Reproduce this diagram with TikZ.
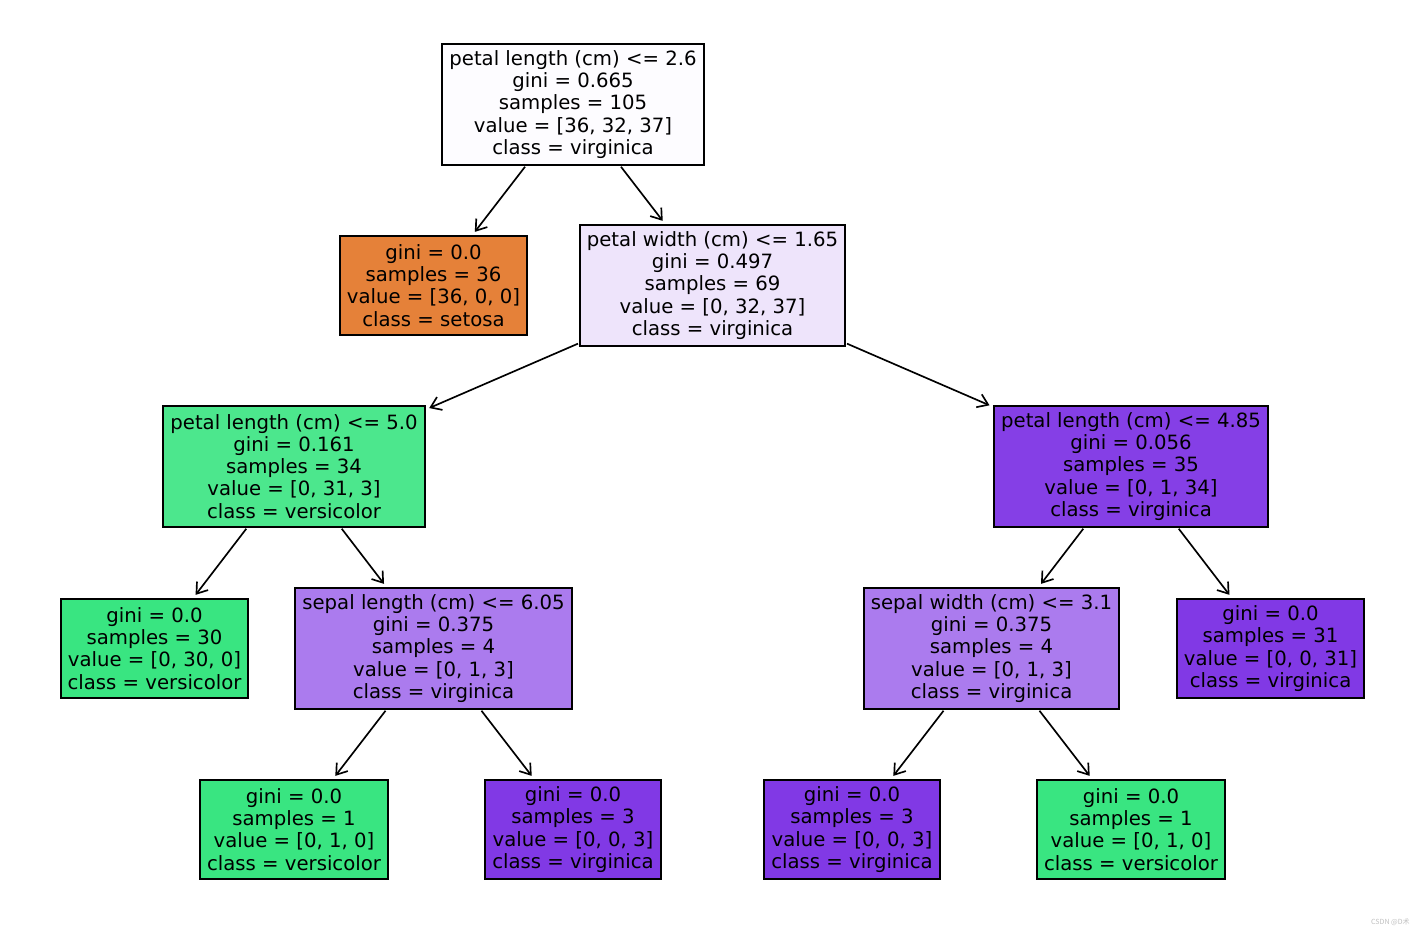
\documentclass[tikz,border=0pt]{standalone}
\usepackage{fontspec}
\setmainfont{DejaVu Sans}
\newfontfamily\cjkfont{Noto Sans CJK SC}
\usetikzlibrary{arrows.meta}

\definecolor{setosa}{RGB}{229,129,57}
\definecolor{versicolor}{RGB}{57,229,129}
\definecolor{virginica}{RGB}{129,57,229}
\definecolor{rootfill}{RGB}{253,252,255}
\definecolor{pwfill}{RGB}{238,228,251}
\definecolor{plfill}{RGB}{76,231,141}
\definecolor{plbfill}{RGB}{133,63,230}
\definecolor{midfill}{RGB}{171,123,238}

\tikzset{
  splitbox/.style={draw, line width=1.1pt, align=center, inner xsep=0.14cm,
    inner ysep=0pt, minimum height=2.42cm, font=\fontsize{11.2}{12.6}\selectfont},
  leafbox/.style={splitbox, minimum height=1.98cm},
  treearrow/.style={->, line width=0.95pt, shorten >=0.08cm, shorten <=0.02cm},
}

\begin{document}
\begin{tikzpicture}[x=0.02cm, y=-0.02cm, >={Straight Barb[length=0.2cm, width=0.28cm]}]
        \useasboundingbox (0,0) rectangle (1425,935);
        % depth 0
        \node[splitbox, fill=rootfill] (root) at (573,104.5)
            {petal length (cm) <= 2.6\\gini = 0.665\\samples = 105\\value = [36, 32, 37]\\class = virginica};
        % depth 1
        \node[leafbox, fill=setosa] (setosa) at (433.5,285.5)
            {gini = 0.0\\samples = 36\\value = [36, 0, 0]\\class = setosa};
        \node[splitbox, fill=pwfill] (pw) at (712.5,285.5)
            {petal width (cm) <= 1.65\\gini = 0.497\\samples = 69\\value = [0, 32, 37]\\class = virginica};
        % depth 2
        \node[splitbox, fill=plfill] (pla) at (294,466.5)
            {petal length (cm) <= 5.0\\gini = 0.161\\samples = 34\\value = [0, 31, 3]\\class = versicolor};
        \node[splitbox, fill=plbfill] (plb) at (1131,466.5)
            {petal length (cm) <= 4.85\\gini = 0.056\\samples = 35\\value = [0, 1, 34]\\class = virginica};
        % depth 3
        \node[leafbox, fill=versicolor] (vera) at (154.5,648.5)
            {gini = 0.0\\samples = 30\\value = [0, 30, 0]\\class = versicolor};
        \node[splitbox, fill=midfill] (sl) at (433.5,648.5)
            {sepal length (cm) <= 6.05\\gini = 0.375\\samples = 4\\value = [0, 1, 3]\\class = virginica};
        \node[splitbox, fill=midfill] (sw) at (991.5,648.5)
            {sepal width (cm) <= 3.1\\gini = 0.375\\samples = 4\\value = [0, 1, 3]\\class = virginica};
        \node[leafbox, fill=virginica] (vira) at (1270.5,648.5)
            {gini = 0.0\\samples = 31\\value = [0, 0, 31]\\class = virginica};
        % depth 4
        \node[leafbox, fill=versicolor] (verb) at (294,829.5)
            {gini = 0.0\\samples = 1\\value = [0, 1, 0]\\class = versicolor};
        \node[leafbox, fill=virginica] (virb) at (573,829.5)
            {gini = 0.0\\samples = 3\\value = [0, 0, 3]\\class = virginica};
        \node[leafbox, fill=virginica] (virc) at (852,829.5)
            {gini = 0.0\\samples = 3\\value = [0, 0, 3]\\class = virginica};
        \node[leafbox, fill=versicolor] (verc) at (1131,829.5)
            {gini = 0.0\\samples = 1\\value = [0, 1, 0]\\class = versicolor};

        \draw[treearrow] (root) -- (setosa);
        \draw[treearrow] (root) -- (pw);
        \draw[treearrow] (pw) -- (pla);
        \draw[treearrow] (pw) -- (plb);
        \draw[treearrow] (pla) -- (vera);
        \draw[treearrow] (pla) -- (sl);
        \draw[treearrow] (plb) -- (sw);
        \draw[treearrow] (plb) -- (vira);
        \draw[treearrow] (sl) -- (verb);
        \draw[treearrow] (sl) -- (virb);
        \draw[treearrow] (sw) -- (virc);
        \draw[treearrow] (sw) -- (verc);

        \node[anchor=east, inner sep=0pt, text=black!25, font=\cjkfont\fontsize{4}{4}\selectfont] (mark) at (1410,922) {CSDN @D术};
    \end{tikzpicture}
\end{document}
